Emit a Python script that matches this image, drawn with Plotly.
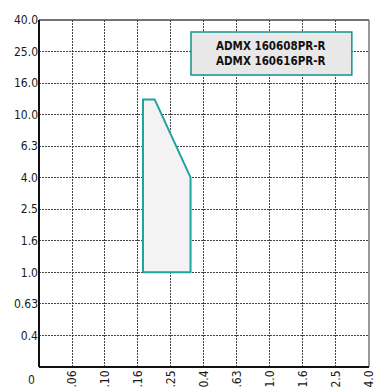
import plotly.graph_objects as go

# Data
x_tickvals = [10 ** (-1.2 + 0.2 * i) for i in range(10)]
x_ticktext = [".06", ".10", ".16", ".25", "0.4", ".63", "1.0", "1.6", "2.5", "4.0"]
y_tickvals = [10 ** (-0.4 + 0.2 * i) for i in range(11)]
y_ticktext = ["0.4", "0.63", "1.0", "1.6", "2.5", "4.0", "6.3", "10.0", "16.0", "25.0", "40.0"]

region_x = [0.17, 0.17, 0.20, 0.33, 0.33, 0.17]
region_y = [1.0, 12.5, 12.5, 4.0, 1.0, 1.0]

legend_lines = ["ADMX 160608PR-R", "ADMX 160616PR-R"]

TEAL = "#1fa39e"
FONT = "DejaVu Sans Condensed"
GRID_DASH = "2px,1px"

fig = go.Figure()
fig.add_trace(go.Scatter(
    x=region_x, y=region_y, mode="lines", fill="toself",
    fillcolor="#f3f3f3", line=dict(color=TEAL, width=2),
    hoverinfo="skip", showlegend=False,
))

fig.update_layout(
    width=374, height=388,
    margin=dict(l=39, r=5, t=20, b=21, autoexpand=False),
    paper_bgcolor="white", plot_bgcolor="white",
    font=dict(family=FONT, size=12, color="#1a1a1a"),
    xaxis=dict(
        type="log", range=[-1.4, 0.6002], automargin=False,
        tickvals=x_tickvals, ticktext=x_ticktext, tickangle=-90,
        ticklabeloverflow="allow",
        showgrid=True, gridcolor="#444", griddash=GRID_DASH, gridwidth=1,
        showline=False, zeroline=False, ticks="", ticklen=0,
        tickfont=dict(family=FONT, size=12, color="#1a1a1a"),
    ),
    yaxis=dict(
        type="log", range=[-0.6, 1.6002], automargin=False,
        tickvals=y_tickvals, ticktext=y_ticktext,
        ticklabeloverflow="allow",
        showgrid=True, gridcolor="#444", griddash=GRID_DASH, gridwidth=1,
        showline=False, zeroline=False, ticks="", ticklen=0,
        tickfont=dict(family=FONT, size=12, color="#1a1a1a"),
    ),
    shapes=[
        dict(type="line", xref="paper", yref="paper", x0=0, x1=1, y0=1, y1=1,
             line=dict(color="#444", width=1.5)),
        dict(type="line", xref="paper", yref="paper", x0=1, x1=1, y0=0, y1=1,
             line=dict(color="#777", width=1.5)),
        dict(type="line", xref="paper", yref="paper", x0=0, x1=0, y0=0, y1=1,
             line=dict(color="#111", width=2)),
        dict(type="line", xref="paper", yref="paper", x0=0, x1=1, y0=0, y1=0,
             line=dict(color="#111", width=2)),
        dict(type="rect", xref="paper", yref="paper",
             x0=0.4606, x1=0.948, y0=0.8415, y1=0.9654,
             fillcolor="#e8e8e8", line=dict(color="#17918d", width=1.5)),
    ],
    annotations=[
        dict(xref="paper", yref="paper", x=0.704, y=0.903,
             xanchor="center", yanchor="middle",
             text="<b>" + "<br>".join(legend_lines) + "</b>",
             showarrow=False, align="center",
             font=dict(family=FONT, size=11.5, color="#111")),
        dict(xref="paper", yref="paper", x=-0.024, y=-0.038,
             xanchor="center", yanchor="middle",
             text="0", showarrow=False,
             font=dict(family=FONT, size=12, color="#1a1a1a")),
    ],
)

fig.write_html("out.html", config={"displayModeBar": False},
               post_script="document.body.style.margin='0';")
